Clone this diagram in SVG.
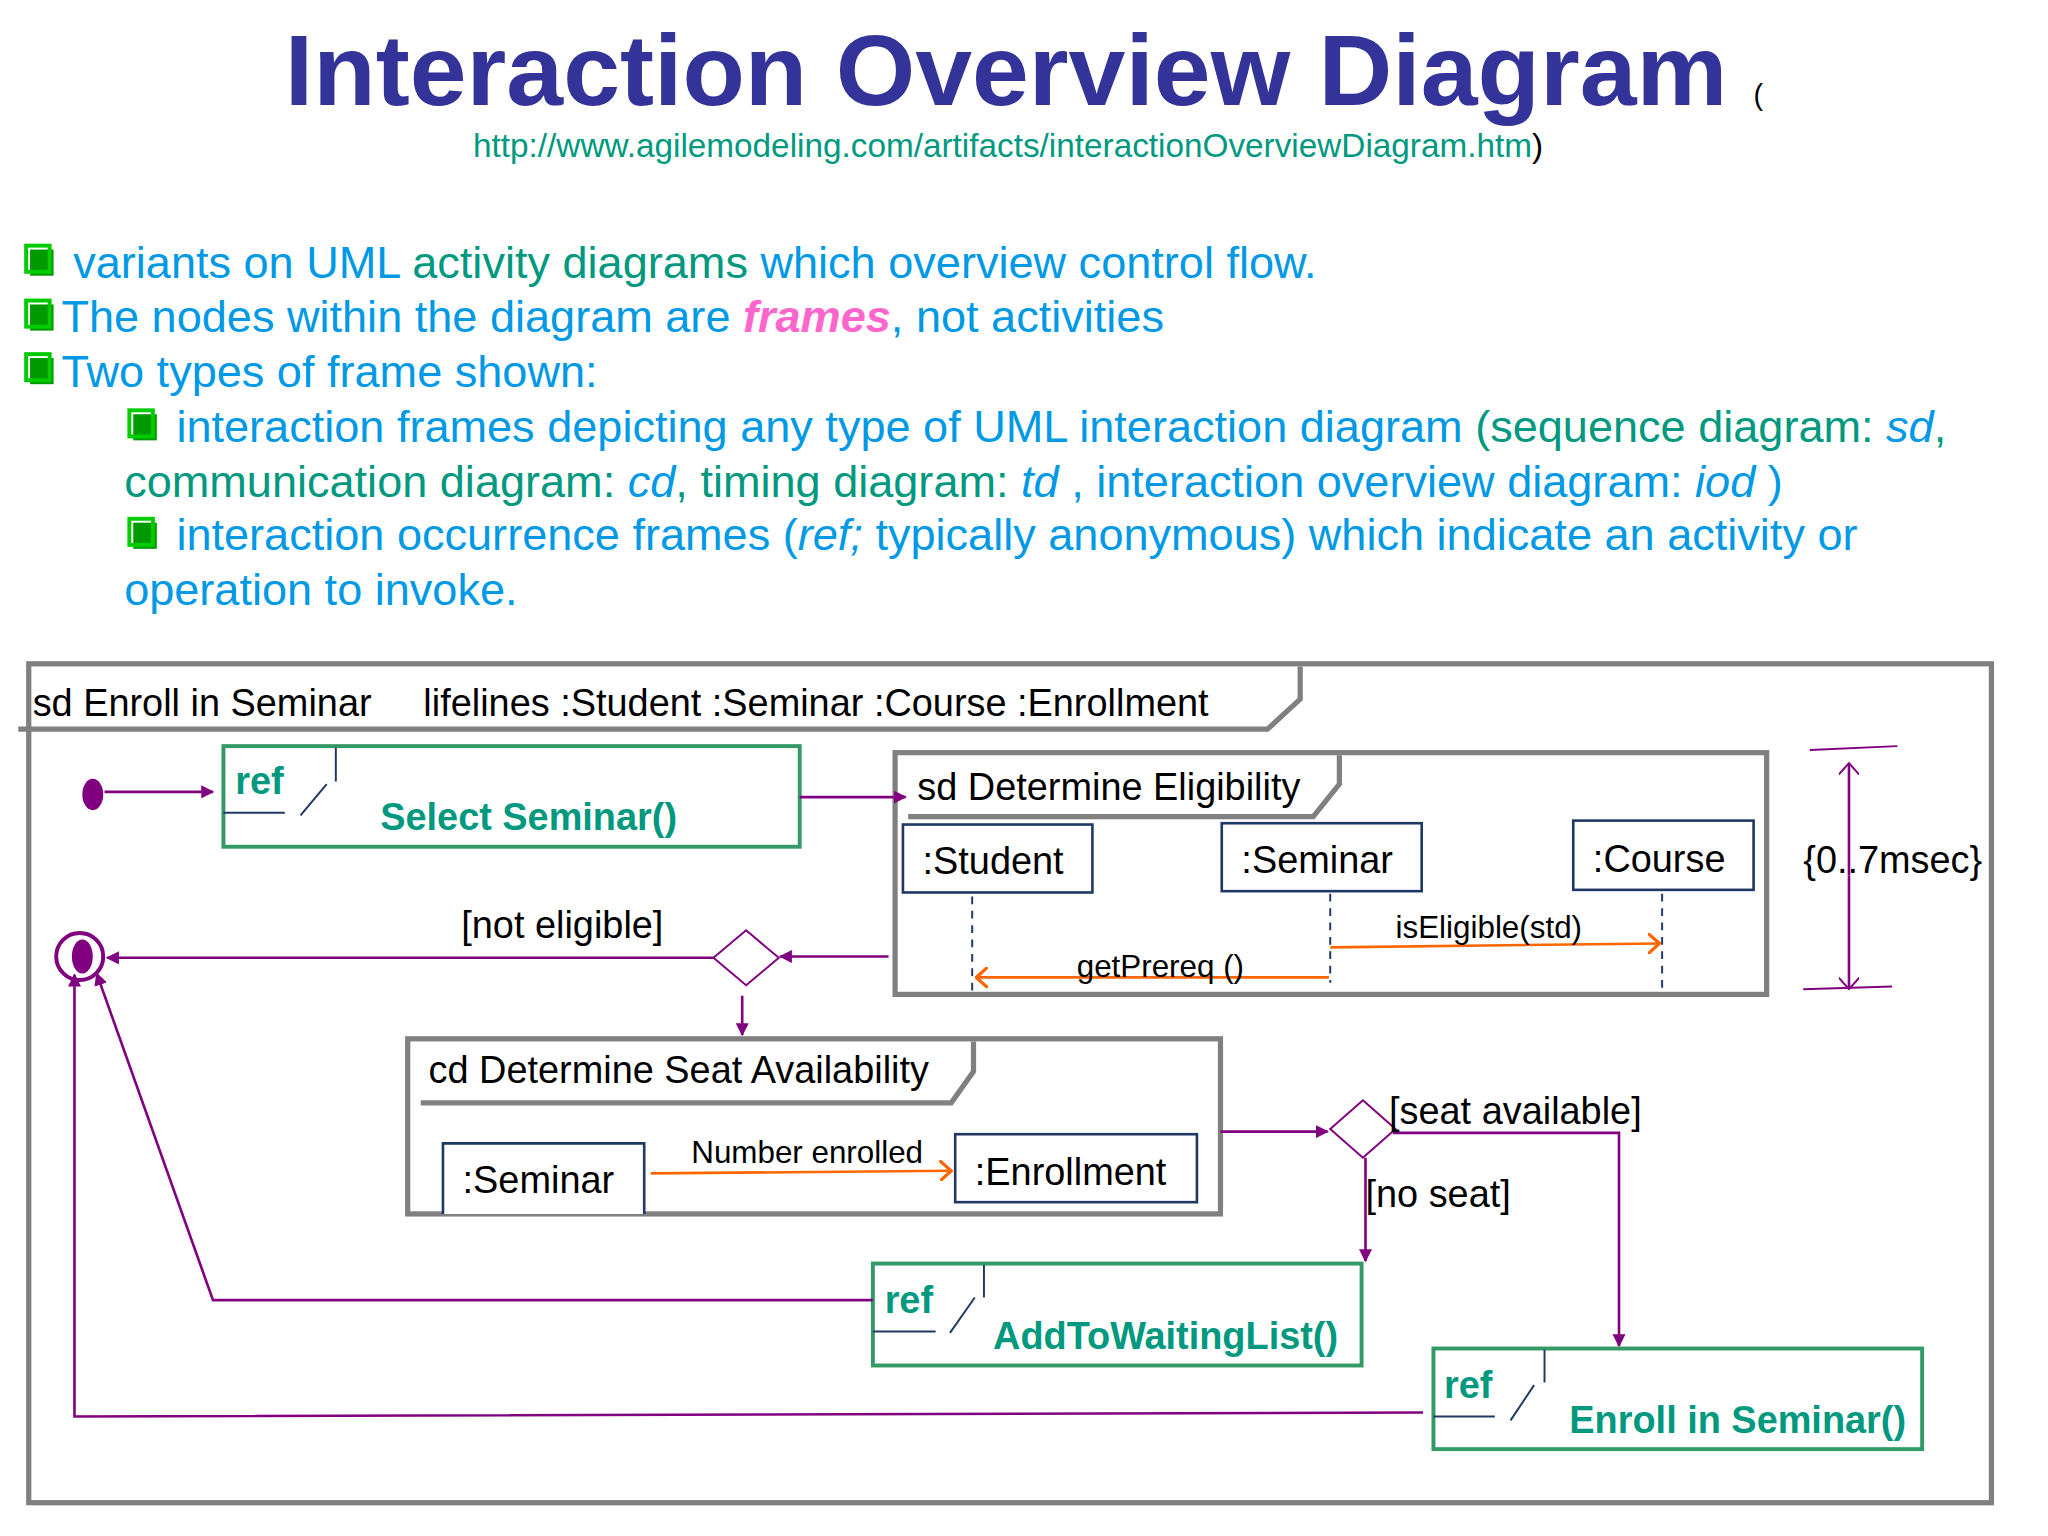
<svg xmlns="http://www.w3.org/2000/svg" width="2048" height="1536" viewBox="0 0 2048 1536">
<defs>
<marker id="tri" viewBox="0 0 10 10" refX="9" refY="5" markerWidth="10" markerHeight="10" markerUnits="userSpaceOnUse" orient="auto"><path d="M0,0 L10,5 L0,10 z" fill="#800080"/></marker>
<marker id="oa" viewBox="0 0 10 16" refX="9" refY="8" markerWidth="10" markerHeight="16" markerUnits="userSpaceOnUse" orient="auto"><path d="M0,0 L9,8 L0,16" fill="none" stroke="#ff6600" stroke-width="2.5"/></marker>
<marker id="pa" viewBox="0 0 10 16" refX="9" refY="8" markerWidth="10" markerHeight="16" markerUnits="userSpaceOnUse" orient="auto"><path d="M0,0 L9,8 L0,16" fill="none" stroke="#800080" stroke-width="1.5"/></marker>
</defs>
<style>
text{font-family:"Liberation Sans",Arial,sans-serif}
.b{fill:#0099e6}.t{fill:#009980}
.frame{fill:none;stroke:#808080;stroke-width:4}
.ref{fill:none;stroke:#339966;stroke-width:3}
.ll{fill:#fff;stroke:#1f3864;stroke-width:2}
.nv{stroke:#1f3864;stroke-width:1.5;fill:none}
.fl{stroke:#800080;stroke-width:2;fill:none}
.msg{stroke:#ff6600;stroke-width:2;fill:none}
.rt{fill:#009980;font-weight:bold;font-size:29px}
.k{font-size:29px;fill:#000}
.bx{fill:none;stroke:#00cc00;stroke-width:3}
.sh{fill:#009900}
</style>
<rect width="2048" height="1536" fill="#fff"/>
<g transform="scale(1.3067)">
<g id="title">
<text x="218" y="80" font-size="76" font-weight="bold" fill="#333399" textLength="1104" lengthAdjust="spacingAndGlyphs">Interaction Overview Diagram</text>
<text x="1342" y="80" font-size="22" fill="#000">(</text>
<text x="362" y="120" font-size="25.5"><tspan class="t">http://www.agilemodeling.com/artifacts/interactionOverviewDiagram.htm</tspan><tspan fill="#000">)</tspan></text>
</g>
<g id="bullets">
<rect class="sh" x="23" y="191" width="18" height="20"/><rect class="bx" x="20" y="188" width="18" height="20" fill="#fff"/>
<rect class="sh" x="23" y="233" width="18" height="20"/><rect class="bx" x="20" y="230" width="18" height="20" fill="#fff"/>
<rect class="sh" x="23" y="274" width="18" height="20"/><rect class="bx" x="20" y="271" width="18" height="20" fill="#fff"/>
<rect class="sh" x="102" y="317" width="18" height="20"/><rect class="bx" x="99" y="314" width="18" height="20" fill="#fff"/>
<rect class="sh" x="102" y="400" width="18" height="20"/><rect class="bx" x="99" y="397" width="18" height="20" fill="#fff"/>
<text x="56" y="213" font-size="34.5"><tspan class="b">variants on UML </tspan><tspan class="t">activity diagrams</tspan><tspan class="b"> which overview control flow.</tspan></text>
<text x="47" y="254" font-size="34.5"><tspan class="b">The nodes within the diagram are </tspan><tspan fill="#ff66cc" font-weight="bold" font-style="italic">frames</tspan><tspan class="b">, not activities</tspan></text>
<text x="47" y="296" font-size="34.5" class="b">Two types of frame shown:</text>
<text x="135" y="338" font-size="34.5"><tspan class="b">interaction frames depicting any type of UML interaction diagram </tspan><tspan class="t">(sequence diagram: </tspan><tspan class="b" font-style="italic">sd</tspan><tspan class="t">,</tspan></text>
<text x="95" y="380" font-size="34.5"><tspan class="t">communication diagram: </tspan><tspan class="b" font-style="italic">cd</tspan><tspan class="t">, timing diagram: </tspan><tspan class="b" font-style="italic">td</tspan><tspan class="b"> , interaction overview diagram: </tspan><tspan class="b" font-style="italic">iod</tspan><tspan class="b"> )</tspan></text>
<text x="135" y="421" font-size="34.5"><tspan class="b">interaction occurrence frames (</tspan><tspan class="b" font-style="italic">ref;</tspan><tspan class="b"> typically anonymous) which indicate an activity or</tspan></text>
<text x="95" y="463" font-size="34.5" class="b">operation to invoke.</text>
</g>
<g id="outer">
<rect class="frame" x="22" y="508" width="1502" height="642"/>
<path class="frame" d="M14,558 L970,558 L995,535 L995,510"/>
<text class="k" x="25" y="548">sd Enroll in Seminar</text>
<text class="k" x="324" y="548">lifelines :Student :Seminar :Course :Enrollment</text>
</g>
<g id="initial"><ellipse cx="71" cy="608" rx="8" ry="12" fill="#800080"/></g>
<g id="final"><circle cx="61" cy="732" r="18" fill="none" stroke="#800080" stroke-width="3"/><ellipse cx="63" cy="732" rx="8" ry="13" fill="#800080"/></g>
<g id="selectSeminar">
<rect class="ref" x="171" y="571" width="441" height="77"/>
<text class="rt" x="180" y="608">ref</text>
<path class="nv" d="M171,622 L218,622 M230,624 L250,600 M257,572 L257,598"/>
<text class="rt" x="291" y="635">Select Seminar()</text>
</g>
<g id="determineEligibility">
<rect class="frame" x="685" y="576" width="667" height="185"/>
<path class="frame" d="M695,625 L1005,625 L1025,600 L1025,578"/>
<text class="k" x="702" y="612">sd Determine Eligibility</text>
<rect class="ll" x="691" y="631" width="145" height="52"/><text class="k" x="706" y="669">:Student</text>
<rect class="ll" x="935" y="630" width="153" height="52"/><text class="k" x="950" y="668">:Seminar</text>
<rect class="ll" x="1204" y="628" width="138" height="53"/><text class="k" x="1219" y="667">:Course</text>
<path class="nv" stroke-dasharray="6,5" d="M744,686 L744,758 M1018,684 L1018,752 M1272,684 L1272,758"/>
<path class="msg" d="M1018,725 L1270,722" marker-end="url(#oa)"/>
<text x="1068" y="718" font-size="24">isEligible(std)</text>
<path class="msg" d="M1017,748 L747,748" marker-end="url(#oa)"/>
<text x="824" y="748" font-size="24">getPrereq ()</text>
</g>
<g id="timing">
<text class="k" x="1380" y="668">{0..7msec}</text>
<path d="M1385,574 L1452,571 M1380,757 L1448,755" stroke="#800080" stroke-width="1.5"/>
<path class="fl" stroke-width="1.5" d="M1415,670 L1415,584" marker-end="url(#pa)"/>
<path class="fl" stroke-width="1.5" d="M1415,670 L1415,757" marker-end="url(#pa)"/>
</g>
<g id="decision1"><path d="M571,712 L596,733 L571,754 L546,733 z" fill="#fff" stroke="#800080" stroke-width="1.5"/></g>
<g id="seatAvailability">
<rect class="frame" x="312" y="795" width="622" height="134"/>
<path class="frame" d="M322,844 L728,844 L745,820 L745,797"/>
<text class="k" x="328" y="829">cd Determine Seat Availability</text>
<path class="ll" d="M339,929 L339,875 L493,875 L493,929"/><text class="k" x="354" y="913">:Seminar</text>
<rect class="ll" x="731" y="868" width="185" height="52"/><text class="k" x="746" y="907">:Enrollment</text>
<path class="msg" d="M498,898 L728,896" marker-end="url(#oa)"/>
<text x="529" y="890" font-size="24">Number enrolled</text>
</g>
<g id="decision2"><path d="M1043,842 L1068,864 L1043,886 L1018,864 z" fill="#fff" stroke="#800080" stroke-width="1.5"/></g>
<g id="addToWaitingList">
<rect class="ref" x="668" y="967" width="374" height="78"/>
<text class="rt" x="677" y="1005">ref</text>
<path class="nv" d="M668,1019 L716,1019 M727,1020 L746,993 M753,968 L753,993"/>
<text class="rt" x="760" y="1032">AddToWaitingList()</text>
</g>
<g id="enrollInSeminar">
<rect class="ref" x="1097" y="1032" width="374" height="77"/>
<text class="rt" x="1105" y="1070">ref</text>
<path class="nv" d="M1097,1084 L1144,1084 M1156,1087 L1174,1060 M1182,1033 L1182,1058"/>
<text class="rt" x="1201" y="1097">Enroll in Seminar()</text>
</g>
<g id="connectors">
<path class="fl" d="M80,606 L163,606" marker-end="url(#tri)"/>
<path class="fl" d="M612,610 L693,610" marker-end="url(#tri)"/>
<path class="fl" d="M680,732 L597,732" marker-end="url(#tri)"/>
<path class="fl" d="M546,733 L82,733" marker-end="url(#tri)"/>
<path class="fl" d="M568,762 L568,792" marker-end="url(#tri)"/>
<path class="fl" d="M934,866 L1016,866" marker-end="url(#tri)"/>
<path class="fl" d="M1066,867 L1239,867 L1239,1030" marker-end="url(#tri)"/>
<path class="fl" d="M1045,886 L1045,965" marker-end="url(#tri)"/>
<path class="fl" d="M668,995 L163,995 L74,745" marker-end="url(#tri)"/>
<path class="fl" d="M1089,1081 L57,1084 L57,746" marker-end="url(#tri)"/>
<text class="k" x="353" y="718">[not eligible]</text>
<text class="k" x="1063" y="860">[seat available]</text>
<text class="k" x="1045" y="924">[no seat]</text>
</g>
</g>
</svg>
